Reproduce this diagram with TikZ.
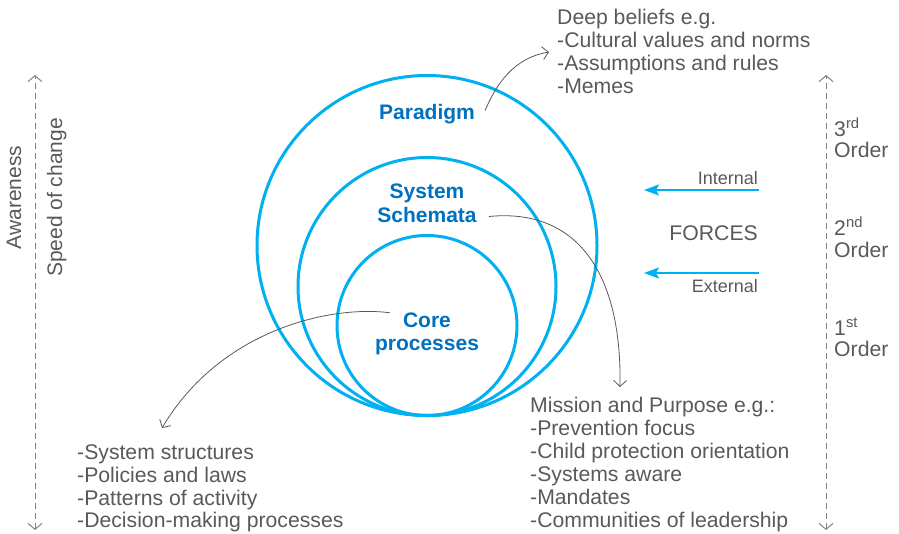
\documentclass[tikz,border=0pt]{standalone}
\usepackage{fontspec}
\setmainfont{Liberation Sans}
\usetikzlibrary{arrows.meta,calc}
\definecolor{ringblue}{HTML}{00B0F0}
\definecolor{labelblue}{HTML}{0070C0}
\definecolor{txtgray}{HTML}{595959}
\definecolor{axisgray}{HTML}{808080}
\begin{document}
\begin{tikzpicture}[x=1pt,y=-1pt,
  ring/.style={draw=ringblue,line width=3pt,circle,inner sep=0pt,outer sep=0pt},
  ringlabel/.style={font=\fontsize{21}{24}\selectfont\bfseries,text=labelblue,inner sep=0pt,anchor=base},
  note/.style={font=\fontsize{21.2}{23}\selectfont,text=txtgray,inner sep=0pt,anchor=base west},
  smallnote/.style={font=\fontsize{18}{20}\selectfont,text=txtgray,inner sep=0pt,anchor=base east},
  axis/.style={draw=axisgray,line width=1pt,dash pattern=on 6pt off 4pt,
    {Straight Barb[length=6pt,width=14pt]}-{Straight Barb[length=6pt,width=14pt]}},
  pointer/.style={draw=txtgray,line width=0.8pt,-{Straight Barb[length=6pt,width=13pt]}},
  force/.style={draw=ringblue,line width=2pt,-{Stealth[length=15pt,width=11pt,inset=3pt]}}
]
\useasboundingbox (0,0) rectangle (899,533);

% nested circles, all touching at the bottom
\node[ring,minimum size=340pt] (outer)  at (427,245.5) {};
\node[ring,minimum size=258pt] (middle) at (427,286.5) {};
\node[ring,minimum size=180pt] (inner)  at (427,325.5) {};

% circle labels
\node[ringlabel] (paradigm)  at (427,119) {Paradigm};
\node[ringlabel] (system)    at (427,198) {System};
\node[ringlabel] (schemata)  at (427,222) {Schemata};
\node[ringlabel] (core)      at (427,327) {Core};
\node[ringlabel] (processes) at (427,350) {processes};

% deep beliefs
\node[note] (deep)     at (557,24) {Deep beliefs e.g.};
\node[note] (cultural) at (557,47) {-Cultural values and norms};
\node[note] (assump)   at (557,70) {-Assumptions and rules};
\node[note] (memes)    at (557,93) {-Memes};

% mission and purpose
\node[note] (mission)    at (530,412) {Mission and Purpose e.g.:};
\node[note] (prevention) at (530,435) {-Prevention focus};
\node[note] (child)      at (530,458) {-Child protection orientation};
\node[note] (aware)      at (530,481) {-Systems aware};
\node[note] (mandates)   at (530,504) {-Mandates};
\node[note] (communities) at (530,527) {-Communities of leadership};

% system structures
\node[note] (structures) at (77,459) {-System structures};
\node[note] (policies)   at (77,482) {-Policies and laws};
\node[note] (patterns)   at (77,505) {-Patterns of activity};
\node[note] (decision)   at (77,527) {-Decision-making processes};

% pointers from the circle labels to their lists
\draw[pointer] ($(paradigm.east)+(10,-3)$) .. controls (500,75) and (520,57) .. ($(cultural.base west)+(-8,5)$);
\draw[pointer] ($(schemata.east)+(12,2)$) .. controls (575,208) and (622,270) .. ($(mission.base west)+(90,-25)$);
\draw[pointer] ($(core.west)+(-13,-7)$) .. controls (330,305) and (220,330) .. ($(structures.base west)+(85,-31)$);

% left axis
\coordinate (awtop) at (35,75);
\coordinate (awbot) at (35,530);
\draw[axis] (awbot) -- (awtop);
\node[font=\fontsize{21}{23}\selectfont,text=txtgray,inner sep=0pt,rotate=90,anchor=base] (awareness) at (21,197.5) {Awareness};
\node[font=\fontsize{21}{23}\selectfont,text=txtgray,inner sep=0pt,rotate=90,anchor=base] (speed) at (62,197.5) {Speed of change};

% right axis
\coordinate (ordtop) at (826,75);
\coordinate (ordbot) at (826,530);
\draw[axis] (ordbot) -- (ordtop);
\node[note] (third)   at (834,136) {3\textsuperscript{rd}};
\node[note] (thirdo)  at (834,157) {Order};
\node[note] (second)  at (834,235) {2\textsuperscript{nd}};
\node[note] (secondo) at (834,257) {Order};
\node[note] (first)   at (834,335) {1\textsuperscript{st}};
\node[note] (firsto)  at (834,356) {Order};

% forces
\node[smallnote] (internal) at (758,184) {Internal};
\node[note,anchor=base east] (forces) at (758,240) {FORCES};
\node[smallnote] (external) at (758,292) {External};
\coordinate (intstart) at (759,190);
\coordinate (intend)   at (644,190);
\coordinate (extstart) at (759,273);
\coordinate (extend)   at (644,273);
\draw[force] (intstart) -- (intend);
\draw[force] (extstart) -- (extend);
\end{tikzpicture}
\end{document}
